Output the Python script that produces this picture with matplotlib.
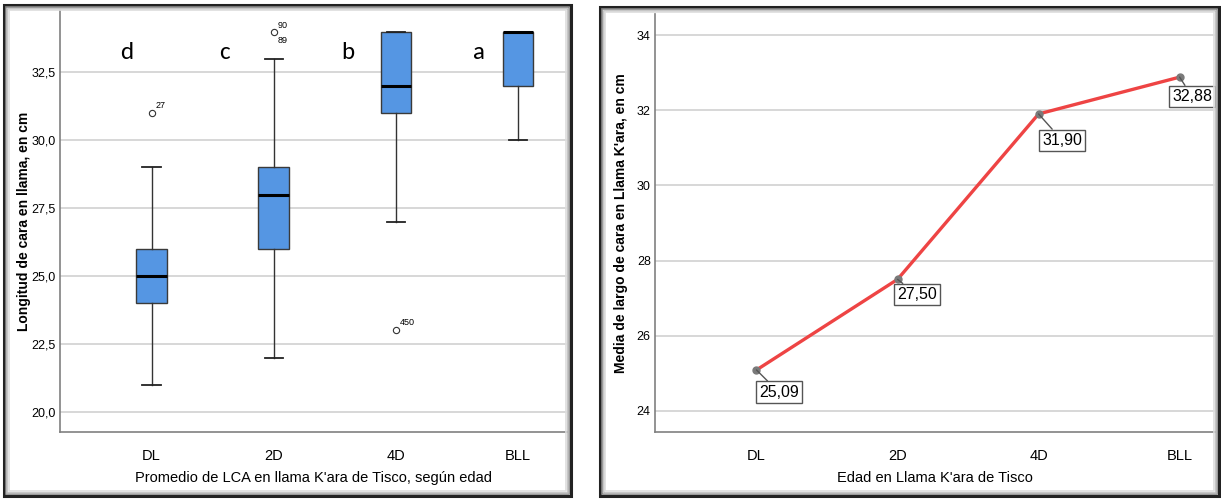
import matplotlib.pyplot as plt
from matplotlib.patches import Rectangle

# data
groups = ['DL', '2D', '4D', 'BLL']
whislo = [21, 22, 27, 30]
q1 = [24, 26, 31, 32]
med = [25, 28, 32, 34]
q3 = [26, 29, 34, 34]
whishi = [29, 33, 34, 34]
outliers = [[31], [34], [23], []]
outlier_ids = [['27'], ['90', '89'], ['450'], []]
letters = ['d', 'c', 'b', 'a']

means = [25.09, 27.50, 31.90, 32.88]
mean_labels = ['25,09', '27,50', '31,90', '32,88']

NARROW = ['Liberation Sans', 'DejaVu Sans']
BOLD = ['Liberation Sans', 'DejaVu Sans']

fig = plt.figure(figsize=(12.21, 4.99), dpi=100)

# panel frames
def frame(x0, y0, x1, y1):
    W, H = 1221, 499
    r = Rectangle((x0 / W, 1 - y1 / H), (x1 - x0) / W, (y1 - y0) / H,
                  transform=fig.transFigure, fill=False, ec='#222222', lw=2.2)
    fig.add_artist(r)
    for k, c in enumerate(['#888888', '#bbbbbb', '#dddddd']):
        d = 2 + k * 1.5
        fig.add_artist(Rectangle(((x0 + d) / W, 1 - (y1 - d) / H),
                                 (x1 - x0 - 2 * d) / W, (y1 - y0 - 2 * d) / H,
                                 transform=fig.transFigure, fill=False,
                                 ec=c, lw=1.2))

frame(4, 5, 571, 496)
frame(600, 7, 1219, 496)


def style(ax):
    for s in ['top', 'right']:
        ax.spines[s].set_visible(False)
    for s in ['left', 'bottom']:
        ax.spines[s].set_color('#808080')
        ax.spines[s].set_linewidth(1.2)
    ax.tick_params(length=0, labelsize=9, pad=3)
    ax.tick_params(axis='x', pad=12, labelsize=10.5)
    ax.yaxis.grid(True, color='#d4d4d4', lw=1.3)
    ax.set_axisbelow(True)
    for t in ax.get_xticklabels() + ax.get_yticklabels():
        t.set_family(NARROW)


# ---- left: boxplot
ax1 = fig.add_axes([0.0491, 0.1343, 0.4152, 0.8457])
stats = []
for i in range(len(groups)):
    stats.append(dict(whislo=whislo[i], q1=q1[i], med=med[i], q3=q3[i],
                      whishi=whishi[i], fliers=outliers[i]))
ax1.bxp(stats, positions=range(len(groups)), widths=0.25, patch_artist=True,
        boxprops=dict(facecolor='#5596e3', edgecolor='#3a3a3a', lw=1.0),
        medianprops=dict(color='black', lw=2.2),
        whiskerprops=dict(color='#333333', lw=1.0),
        capprops=dict(color='#222222', lw=1.3),
        capwidths=0.15,
        flierprops=dict(marker='o', mfc='none', mec='#333333', ms=4.5, mew=0.8))
ax1.set_xlim(-0.75, 3.4)
ax1.set_ylim(19.26, 34.8)
ax1.set_yticks([20, 22.5, 25, 27.5, 30, 32.5])
ax1.set_yticklabels(['20,0', '22,5', '25,0', '27,5', '30,0', '32,5'])
ax1.set_xticks(range(len(groups)))
ax1.set_xticklabels(groups)
style(ax1)

for i in range(len(groups)):
    for v in outliers[i]:
        ids = outlier_ids[i]
        if len(ids) == 1:
            ax1.annotate(ids[0], (i, v), xytext=(3, 4), textcoords='offset points',
                         fontsize=6.5, family=NARROW)
        else:
            ax1.annotate(ids[0], (i, v), xytext=(3, 3), textcoords='offset points',
                         fontsize=6.5, family=NARROW)
            ax1.annotate(ids[1], (i, v), xytext=(3, -8), textcoords='offset points',
                         fontsize=6.5, family=NARROW)

letter_dx = [-0.2, -0.4, -0.39, -0.32]
for i, l in enumerate(letters):
    ax1.text(i + letter_dx[i], 33.25, l, fontsize=18, ha='center', va='center',
             family=['Carlito', 'Liberation Sans', 'DejaVu Sans'])

ax1.set_ylabel('Longitud de cara en llama, en cm', fontsize=10, fontweight='bold',
               family=BOLD)
ax1.yaxis.set_label_coords(-0.057, 0.5)
ax1.set_xlabel("Promedio de LCA en llama K'ara de Tisco, según edad", fontsize=10.5,
               family=NARROW, va='center')
ax1.xaxis.set_label_coords(0.5, -0.109)

# ---- right: line of means
ax2 = fig.add_axes([0.5364, 0.1343, 0.4586, 0.8377])
x = list(range(len(groups)))
ax2.plot(x, means, color='#ee4444', lw=2.4, zorder=2)
ax2.plot(x, means, 'o', color='#7a7a7a', ms=5, zorder=3)
offs = [(16, -16), (14, -11), (17, -19), (9, -14)]
for i, (v, lab) in enumerate(zip(means, mean_labels)):
    ax2.annotate(lab, (i, v), xytext=offs[i], textcoords='offset points',
                 ha='center', va='center', fontsize=11.5, family=NARROW,
                 bbox=dict(boxstyle='square,pad=0.2', fc='white', ec='#555555', lw=1),
                 arrowprops=dict(arrowstyle='-', color='#555555', lw=1,
                                 shrinkA=0, shrinkB=0))
ax2.set_xlim(-0.72, 3.25)
ax2.set_ylim(23.44, 34.56)
ax2.set_yticks([24, 26, 28, 30, 32, 34])
ax2.set_xticks(x)
ax2.set_xticklabels(groups)
style(ax2)
ax2.set_ylabel("Media de largo de cara en Llama K'ara, en cm", fontsize=10,
               fontweight='bold', family=BOLD)
ax2.yaxis.set_label_coords(-0.048, 0.5)
ax2.set_xlabel("Edad en Llama K'ara de Tisco", fontsize=10.5, family=NARROW,
               va='center')
ax2.xaxis.set_label_coords(0.5, -0.11)

fig.savefig('out.png', dpi=100)
